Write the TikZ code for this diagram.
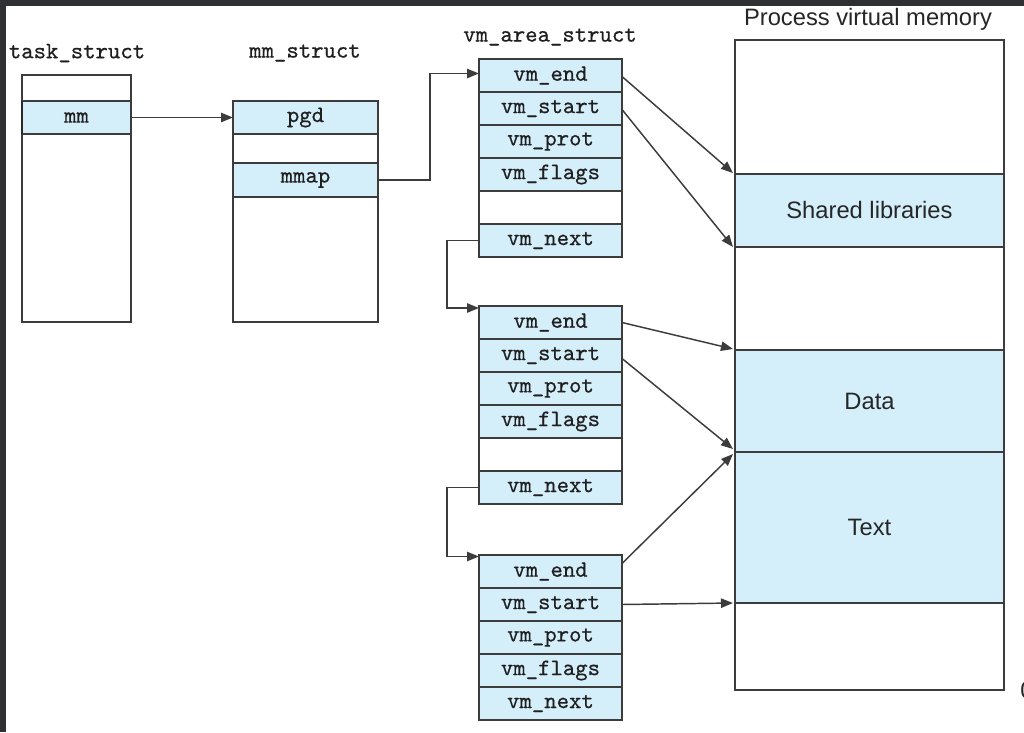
\documentclass[tikz,border=0pt]{standalone}
\usepackage{fontspec}
\setsansfont{Liberation Sans}
\newfontfamily\fieldfont[FakeBold=0.6]{lmmono10-regular.otf}
\usetikzlibrary{arrows.meta,calc}
\definecolor{fieldblue}{HTML}{D4EEFA}
\definecolor{edgegray}{HTML}{3C3C3C}
\definecolor{stripgray}{HTML}{2F3033}
\begin{document}
\begin{tikzpicture}[x=0.75pt,y=-0.75pt,
  box/.style={draw=edgegray, line width=1.15pt, fill=white, inner sep=0pt, outer sep=0pt, anchor=center},
  fld/.style={box, fill=fieldblue, font=\fontsize{17.7}{20}\fieldfont, text=black!88},
  vfld/.style={fld, minimum width=107.25pt, minimum height=24.75pt},
  vblank/.style={box, minimum width=107.25pt, minimum height=24.75pt},
  lbl/.style={font=\fontsize{17.7}{20}\fieldfont, text=black!88, inner sep=0pt},
  mem/.style={box, minimum width=201.75pt, font=\fontsize{17.8}{20}\selectfont\sffamily, text=black!85},
  memblue/.style={mem, fill=fieldblue},
  arr/.style={draw=edgegray, line width=1.1pt, -{Triangle[length=9pt,width=7pt]}}
]
\useasboundingbox (0,0) rectangle (1024,732);
\fill[white] (0,0) rectangle (1024,732);
% screenshot edges
\fill[stripgray] (0,0) rectangle (1024,6);
\fill[stripgray] (0,0) rectangle (6,732);

% task_struct
\node[lbl] (tlabel) at (77,53) {task\_struct};
\node[box, minimum width=81.75pt, minimum height=185.25pt] (task) at (76.5,198.5) {};
\node[fld, minimum width=81.75pt, minimum height=24.75pt] (mm) at (76.5,117.5) {mm};
\draw[edgegray!70!black, line width=2pt] (mm.north west) -- (mm.south west);

% mm_struct
\node[lbl] (mlabel) at (305,53) {mm\_struct};
\node[box, minimum width=108.75pt, minimum height=165.75pt] (mms) at (305.5,211.5) {};
\node[fld, minimum width=108.75pt, minimum height=24.75pt] (pgd) at (305.5,117.5) {pgd};
\node[fld, minimum width=108.75pt, minimum height=25.5pt] (mmap) at (305.5,180) {mmap};

% vm_area_struct 1
\node[lbl] (vlabel) at (550,37) {vm\_area\_struct};
\node[vfld] (e1) at (550.5,75.5) {vm\_end};
\node[vfld] (s1) at (550.5,108.5) {vm\_start};
\node[vfld] (p1) at (550.5,141.5) {vm\_prot};
\node[vfld] (f1) at (550.5,174.5) {vm\_flags};
\node[vblank] (b1) at (550.5,207.5) {};
\node[vfld] (n1) at (550.5,240.5) {vm\_next};

% vm_area_struct 2
\node[vfld] (e2) at (550.5,322.5) {vm\_end};
\node[vfld] (s2) at (550.5,355.5) {vm\_start};
\node[vfld] (p2) at (550.5,388.5) {vm\_prot};
\node[vfld] (f2) at (550.5,421.5) {vm\_flags};
\node[vblank] (b2) at (550.5,454.5) {};
\node[vfld] (n2) at (550.5,487.5) {vm\_next};

% vm_area_struct 3
\node[vfld] (e3) at (550.5,571.5) {vm\_end};
\node[vfld] (s3) at (550.5,604.5) {vm\_start};
\node[vfld] (p3) at (550.5,637.5) {vm\_prot};
\node[vfld] (f3) at (550.5,670.5) {vm\_flags};
\node[vfld] (n3) at (550.5,703.5) {vm\_next};

% Process virtual memory
\node[font=\fontsize{17.8}{20}\selectfont\sffamily, text=black!85, inner sep=0pt] (plabel) at (868,19) {Process virtual memory};
\node[mem, minimum height=100.5pt] (ptop) at (869.5,107) {};
\node[memblue, minimum height=54.75pt] (shared) at (869.5,210.5) {Shared libraries};
\node[mem, minimum height=77.25pt] (pmid) at (869.5,298.5) {};
\node[memblue, minimum height=76.5pt] (data) at (869.5,401) {Data};
\node[memblue, minimum height=113.25pt] (text) at (869.5,527.5) {Text};
\node[mem, minimum height=65.25pt] (pbot) at (869.5,646.5) {};
\node[font=\fontsize{17.8}{20}\selectfont\sffamily, text=black!85, inner sep=0pt] (zero) at (1027,690) {0};

% connectors
\draw[arr] (mm.east) -- (pgd.west);
\draw[arr] (mmap.east) -- ($(mmap.east)+(52,0)$) |- ($(e1.west)+(0,-2)$);
\draw[arr] (n1.west) -- ($(n1.west)+(-32,0)$) |- ($(e2.north west)+(0,2)$);
\draw[arr] (n2.west) -- ($(n2.west)+(-32,0)$) |- ($(e3.north west)+(0,1.5)$);

\draw[arr] ($(e1.east)+(0,1)$) -- ($(shared.north west)+(-2,-1)$);
\draw[arr] ($(s1.east)+(0,1)$) -- ($(shared.south west)+(-2,0)$);
\draw[arr] (e2.east) -- ($(data.north west)+(-2,-1)$);
\draw[arr] ($(s2.east)+(0,3)$) -- ($(data.south west)+(-2,-3)$);
\draw[arr] ($(e3.east)+(0,-8)$) -- ($(text.north west)+(-2,2)$);
\draw[arr] (s3.east) -- ($(text.south west)+(-2,0)$);
\end{tikzpicture}
\end{document}
